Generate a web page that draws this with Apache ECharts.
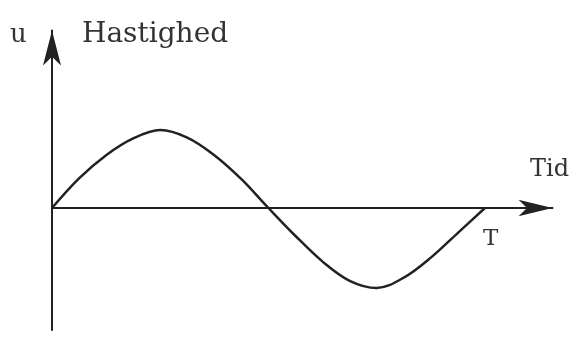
<!DOCTYPE html>
<html>
<head>
<meta charset="utf-8">
<script src="https://cdn.jsdelivr.net/npm/echarts@6/dist/echarts.min.js"></script>
<style>
  html, body { margin: 0; padding: 0; background: #fff; }
  #chart { width: 570px; height: 337px; }
</style>
</head>
<body>
<div id="chart"></div>
<script>
// Time as a fraction of one period T, speed relative to its peak value
const tValues = [0, 0.0625, 0.125, 0.1875, 0.25, 0.3125, 0.375, 0.4375, 0.5,
  0.5625, 0.625, 0.6875, 0.75, 0.8125, 0.875, 0.9375, 1.0];
const uValues = [0, 0.37, 0.66, 0.87, 0.975, 0.88, 0.66, 0.36, 0,
  -0.35, -0.67, -0.91, -1.0, -0.87, -0.62, -0.31, 0];

const yAxisName = 'Hastighed';
const yAxisSymbol = 'u';
const xAxisName = 'Tid';
const periodLabel = 'T';

const ink = '#222';
const textInk = '#333';
const serif = 'DejaVu Serif';

const chart = echarts.init(document.getElementById('chart'), null, { renderer: 'canvas' });

chart.setOption({
  animation: false,
  backgroundColor: '#fff',
  grid: { left: 52, right: 17.5, top: 30.5, bottom: 7, containLabel: false },
  xAxis: {
    type: 'value',
    min: 0,
    max: 1.156,
    axisLine: {
      onZero: true,
      lineStyle: { color: ink, width: 2 },
      symbol: ['none', 'arrow'],
      symbolSize: [12.5, 34]
    },
    axisTick: { show: false },
    axisLabel: { show: false },
    splitLine: { show: false }
  },
  yAxis: {
    type: 'value',
    min: -1.525,
    max: 2.219,
    axisLine: {
      show: true,
      lineStyle: { color: ink, width: 2 },
      symbol: ['none', 'arrow'],
      symbolSize: [13.5, 35]
    },
    axisTick: { show: false },
    axisLabel: { show: false },
    splitLine: { show: false }
  },
  series: [{
    type: 'line',
    data: tValues.map((t, i) => [t, uValues[i]]),
    smooth: 0.35,
    showSymbol: false,
    lineStyle: { color: ink, width: 2.5 },
    z: 3
  }],
  graphic: [
    { type: 'text', left: 10, top: 22, style: { text: yAxisSymbol, font: '26px "' + serif + '"', fill: textInk } },
    { type: 'text', left: 82, top: 21, style: { text: yAxisName, font: '28px "' + serif + '"', fill: textInk } },
    { type: 'text', left: 530, top: 158, style: { text: xAxisName, font: '24px "' + serif + '"', fill: textInk } },
    { type: 'text', left: 483, top: 228, style: { text: periodLabel, font: '23px "' + serif + '"', fill: textInk } }
  ]
});
</script>
</body>
</html>
